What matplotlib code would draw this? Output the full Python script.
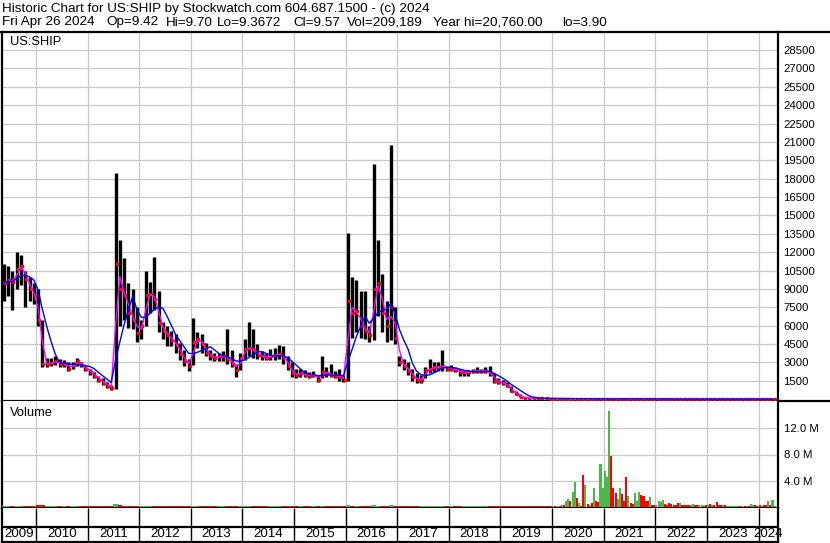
import numpy as np
import pandas as pd
import matplotlib
matplotlib.use("Agg")
import matplotlib.pyplot as plt
from matplotlib.lines import Line2D

plt.rcParams['font.family'] = ['Liberation Sans', 'DejaVu Sans']

# ---------------- data (monthly bars, May 2009 .. Apr 2024) ----------------
first_month = "2009-05"
last_month = "2024-04"

high = [
    11000, 10900, 10500, 12000, 11800, 10500, 10000, 9500,                      # 2009
    9000, 6500, 3400, 3400, 3550, 3300, 3200, 3000, 3000, 3400, 3000, 2800,     # 2010
    2500, 2200, 1900, 1700, 1400, 1150, 18500, 13000, 11500, 9500, 9000, 7500,  # 2011
    6500, 10500, 9600, 11600, 8800, 6300, 6000, 5600, 5300, 4600, 4000, 3300,   # 2012
    6600, 5500, 5300, 4600, 4000, 3800, 3800, 3900, 5700, 4000, 2900, 3800,     # 2013
    4900, 6300, 5700, 4500, 3900, 3800, 4100, 4200, 4400, 4300, 3500, 3000,     # 2014
    2500, 2500, 2400, 2200, 2300, 2000, 3500, 2600, 2900, 2300, 2500, 2000,     # 2015
    13600, 10000, 9700, 8800, 8800, 6000, 19200, 13000, 10200, 8000, 20760, 7500,  # 2016
    3500, 3300, 3000, 2500, 2100, 2000, 2600, 3300, 3000, 3000, 4000, 2700,     # 2017
    2800, 2600, 2500, 2400, 2400, 2500, 2600, 2500, 2600, 2700, 2100, 1700,     # 2018
    1600, 1400, 1100, 700, 420, 200, 120, 100, 90, 85, 80, 75,                  # 2019
    70, 65, 60, 55, 50, 45, 40, 38, 35, 32, 30, 28,                             # 2020
    40, 45, 38, 35, 30, 28, 26, 25, 24, 22, 20, 18,                             # 2021
    17, 16, 18, 16, 14, 12, 11, 10, 9, 9, 8, 8,                                 # 2022
    8, 8, 7, 7, 6, 6, 6, 7, 7, 6, 6, 7,                                         # 2023
    8, 9, 10, 9.7,                                                              # 2024
]
low = [
    8000, 8400, 7300, 9000, 9300, 7500, 8000, 7800,
    6000, 2600, 2600, 2700, 2800, 2600, 2650, 2300, 2500, 2700, 2600, 2300,
    2000, 1700, 1400, 1150, 900, 750, 800, 6000, 6500, 5800, 5700, 4700,
    4900, 6000, 7000, 7300, 5500, 4900, 4300, 4300, 3800, 3200, 2700, 2300,
    2800, 4200, 3800, 3500, 3200, 3100, 3100, 3100, 2900, 2600, 1850, 2400,
    3200, 3500, 3400, 3300, 3200, 3200, 3200, 3200, 3300, 2900, 2400, 1800,
    1700, 1800, 1800, 1700, 1800, 1400, 1700, 1800, 1800, 1700, 1500, 1400,
    1500, 5000, 5500, 5000, 4900, 4700, 4800, 6800, 5500, 4700, 4800, 4500,
    2700, 2400, 2000, 1500, 1300, 1300, 1700, 2100, 2200, 2300, 2300, 2300,
    2300, 2200, 1900, 1900, 1900, 2100, 2100, 2100, 2100, 1900, 1300, 1200,
    1150, 1000, 550, 300, 150, 90, 70, 60, 55, 50, 48, 45,
    40, 35, 30, 28, 25, 22, 20, 18, 17, 16, 15, 14,
    15, 20, 22, 20, 18, 17, 16, 15, 14, 13, 12, 11,
    11, 11, 12, 11, 9, 8, 7, 7, 6, 6, 5, 5,
    5, 5, 4.5, 4.5, 4, 3.9, 4, 4.5, 5, 4.5, 4.5, 5,
    5.5, 6.5, 7.5, 7.5,
]
close = [
    9500, 9700, 9600, 10600, 10900, 9800, 9000, 8400,
    6500, 2900, 2900, 2950, 3100, 2900, 2900, 2500, 2800, 3100, 2750, 2500,
    2200, 1900, 1600, 1350, 1100, 900, 11000, 9000, 8500, 7000, 6500, 5400,
    6000, 8500, 8600, 8200, 6200, 5600, 5200, 4800, 4400, 3700, 3100, 2700,
    4700, 4900, 4500, 3800, 3500, 3400, 3500, 3500, 3300, 2900, 2400, 3400,
    4100, 4200, 4000, 3600, 3500, 3400, 3500, 3600, 3700, 3400, 2700, 2100,
    2000, 2100, 2000, 1900, 2000, 1600, 2200, 2100, 2000, 1900, 1800, 1600,
    8000, 7000, 7200, 6000, 5600, 5200, 9000, 9500, 7000, 6000, 7500, 5000,
    3000, 2700, 2300, 1800, 1600, 1600, 2400, 2500, 2600, 2600, 2700, 2500,
    2500, 2400, 2200, 2200, 2200, 2300, 2300, 2300, 2300, 2100, 1500, 1400,
    1300, 1100, 700, 400, 200, 120, 80, 70, 65, 60, 55, 50,
    50, 45, 40, 35, 30, 28, 25, 22, 20, 20, 18, 17,
    30, 28, 26, 25, 22, 21, 20, 19, 18, 16, 14, 13,
    13, 14, 15, 12, 10, 9, 8, 8, 7, 7, 6, 6,
    6, 6, 5, 5, 4.5, 5, 5.5, 6, 5.5, 5, 5.5, 6,
    7, 8.5, 9.5, 9.57,
]

# monthly volume (millions), May 2009 .. Dec 2019
vol_pre2020 = [
    0.15, 0.14, 0.12, 0.18, 0.15, 0.14, 0.12, 0.12,
    0.22, 0.30, 0.15, 0.12, 0.14, 0.12, 0.11, 0.12, 0.11, 0.12, 0.11, 0.11,
    0.11, 0.10, 0.10, 0.10, 0.10, 0.11, 0.35, 0.22, 0.15, 0.14, 0.12, 0.12,
    0.12, 0.18, 0.15, 0.15, 0.14, 0.12, 0.11, 0.11, 0.11, 0.11, 0.11, 0.11,
    0.15, 0.12, 0.12, 0.11, 0.11, 0.11, 0.11, 0.11, 0.14, 0.12, 0.12, 0.12,
    0.14, 0.15, 0.14, 0.12, 0.11, 0.11, 0.11, 0.11, 0.11, 0.11, 0.11, 0.12,
    0.12, 0.11, 0.11, 0.11, 0.11, 0.11, 0.14, 0.11, 0.11, 0.11, 0.11, 0.11,
    0.22, 0.15, 0.14, 0.12, 0.12, 0.11, 0.20, 0.15, 0.12, 0.12, 0.20, 0.14,
    0.14, 0.12, 0.11, 0.11, 0.11, 0.11, 0.12, 0.12, 0.11, 0.11, 0.12, 0.11,
    0.11, 0.11, 0.11, 0.11, 0.11, 0.11, 0.11, 0.11, 0.11, 0.11, 0.11, 0.11,
    0.12, 0.12, 0.14, 0.15, 0.15, 0.15, 0.15, 0.15, 0.15, 0.15, 0.15, 0.15,
]

# half-month volume (millions), Jan 2020 .. Apr 2024, and up(1)/down(0) flag
vol_half = [
    0.05, 0.05, 0.05, 0.1, 0.2, 0.3, 0.9, 1.2, 0.8, 2.3, 3.8, 1.3,
    0.5, 0.1, 4.8, 3.4, 0.4, 0.3, 0.5, 2.8, 0.8, 0.7, 6.6, 2.8,
    5.4, 4.6, 14.7, 7.8, 2.9, 2.1, 1.2, 2.9, 1.9, 0.8, 4.6, 1.6,
    0.6, 0.4, 2.1, 0.8, 2.3, 1.8, 1.7, 0.9, 0.8, 1.5, 0.3, 0.2,
    0.2, 0.8, 0.7, 1.1, 0.4, 0.3, 0.6, 0.4, 0.3, 0.2, 0.6, 0.5,
    0.3, 0.3, 0.3, 0.3, 0.3, 0.4, 0.3, 0.2, 0.3, 0.3, 0.1, 0.2,
    0.3, 0.4, 0.3, 0.3, 0.7, 0.3, 0.2, 0.2, 0.2, 0.1, 0.15, 0.1,
    0.1, 0.05, 0.15, 0.1, 0.05, 0.1, 0.1, 0.1, 0.4, 0.2, 0.2, 0.1,
    0.2, 0.15, 0.2, 0.2, 0.9, 0.3, 1.1, 0.1,
]
vol_half_up = [
    1, 0, 1, 0, 1, 0, 1, 1, 0, 1, 1, 0,
    1, 0, 0, 1, 0, 1, 0, 1, 0, 0, 1, 1,
    1, 1, 1, 0, 0, 0, 1, 1, 0, 0, 0, 1,
    0, 0, 1, 1, 1, 0, 0, 0, 0, 1, 0, 0,
    1, 1, 1, 1, 0, 0, 0, 0, 0, 0, 0, 1,
    0, 0, 0, 0, 1, 1, 0, 0, 1, 1, 0, 0,
    1, 0, 1, 0, 0, 0, 0, 1, 0, 1, 1, 1,
    1, 1, 1, 0, 1, 0, 1, 0, 1, 1, 0, 0,
    0, 1, 0, 0, 1, 0, 1, 1,
]

year_labels = [str(y) for y in range(2009, 2025)]
price_ticks = list(range(1500, 28501, 1500))
vol_ticks = [4, 8, 12]

header1 = "Historic Chart for US:SHIP by Stockwatch.com 604.687.1500 - (c) 2024"
header2 = ["Fri Apr 26 2024", "Op=9.42", "Hi=9.70", "Lo=9.3672", "Cl=9.57",
           "Vol=209,189", "Year hi=20,760.00", "lo=3.90"]

# ---------------- derived ----------------
months = pd.period_range(first_month, last_month, freq="M")
xm = np.array([p.year + (p.month - 0.5) / 12 for p in months])
close_s = pd.Series(close, dtype=float)
ma_fast = close_s.rolling(2, min_periods=1).mean()
ma_slow = close_s.rolling(5, min_periods=1).mean()

n_pre = len(vol_pre2020)
x_vpre = xm[:n_pre]
up_pre = np.r_[True, np.diff(np.array(close[:n_pre], float)) >= 0]
x_vhalf = np.array([2020 + (k + 0.5) / 24 for k in range(len(vol_half))])

GREEN = "#4cb84c"
RED = "#ff0000"
GRID = "#c8c8c8"

# ---------------- layout helpers ----------------
W, H = 830, 543
fig = plt.figure(figsize=(W / 100, H / 100), dpi=100)


def rect(l, t, r, b):
    return [l / W, 1 - b / H, (r - l) / W, (b - t) / H]


XL = (2009.332, 2024.377)
year_bounds = list(range(2010, 2025))
SP = 1.6  # spine width

ax = fig.add_axes(rect(1.5, 32, 778, 401))
axv = fig.add_axes(rect(1.5, 401, 778, 508))
axx = fig.add_axes(rect(1.5, 508, 778, 542))

# ---------------- price panel ----------------
ax.vlines(xm, low, high, color="black", lw=2.4, zorder=3)
ax.plot(xm + 0.02, close, ls="none", marker="s", ms=1.7, mec=RED, mfc=RED, zorder=4)
ax.plot(xm, ma_fast, color="#ff00ff", lw=1.0, zorder=5)
ax.plot(xm, ma_slow, color="#0000ff", lw=1.0, zorder=6)
ax.set_xlim(*XL)
ax.set_ylim(-150, 29975)
ax.set_xticks(year_bounds)
ax.set_yticks(price_ticks)
ax.set_yticklabels([str(t) for t in price_ticks])
ax.yaxis.tick_right()
ax.tick_params(axis="y", length=0, pad=4, labelsize=8.2)
ax.tick_params(axis="x", length=0, labelbottom=False)
ax.grid(True, color=GRID, lw=0.9, zorder=0)
ax.set_axisbelow(True)
for s in ax.spines.values():
    s.set_linewidth(SP)
ax.spines["top"].set_visible(False)
ax.text(8 / 776.5, 1 - 10 / 369, "US:SHIP", transform=ax.transAxes,
        fontsize=9.3, va="center", ha="left")

# ---------------- volume panel ----------------
axv.bar(x_vpre, vol_pre2020, width=1 / 12, color=[GREEN if u else RED for u in up_pre],
        lw=0, zorder=3)
axv.bar(x_vhalf, vol_half, width=1 / 24 * 0.95,
        color=[GREEN if u else RED for u in vol_half_up], lw=0, zorder=3)
axv.set_xlim(*XL)
axv.set_ylim(-0.2, 16.2)
axv.set_xticks(year_bounds)
axv.set_yticks(vol_ticks)
axv.set_yticklabels([f"{t:.1f} M" for t in vol_ticks])
axv.yaxis.tick_right()
axv.tick_params(axis="y", length=0, pad=4, labelsize=8.2)
axv.tick_params(axis="x", length=0, labelbottom=False)
axv.grid(True, color=GRID, lw=0.9, zorder=0)
axv.set_axisbelow(True)
for s in axv.spines.values():
    s.set_linewidth(SP)
axv.spines["top"].set_visible(False)
axv.text(8 / 776.5, 1 - 12 / 107, "Volume", transform=axv.transAxes,
         fontsize=9.3, va="center", ha="left")

# ---------------- year axis ----------------
axx.set_xlim(*XL)
axx.set_ylim(0, 1)
split = 15 / 34
axx.vlines(year_bounds, 0, 1, color="black", lw=1.0)
axx.axhline(split, color="black", lw=SP)
cells = [XL[0]] + year_bounds + [XL[1]]
for i, lab in enumerate(year_labels):
    cx = (cells[i] + cells[i + 1]) / 2
    axx.text(cx, split / 2 + 0.02, lab, ha="center", va="center", fontsize=9.6)
axx.set_xticks([])
axx.set_yticks([])
for s in axx.spines.values():
    s.set_linewidth(SP)
axx.spines["top"].set_visible(False)

# ---------------- header & frame lines ----------------
fig.text(2 / W, 1 - 9 / H, header1, fontsize=9.7, va="center", ha="left")
h2x = [2, 106, 166, 217, 293, 347, 433, 562]
for xx, t in zip(h2x, header2):
    fig.text(xx / W, 1 - 22.5 / H, t, fontsize=9.7, va="center", ha="left")
fig.add_artist(Line2D([0, 1], [1 - 32 / H, 1 - 32 / H], color="black", lw=SP,
                      transform=fig.transFigure))
fig.add_artist(Line2D([778 / W, 1], [1 - 401 / H, 1 - 401 / H], color="black", lw=SP,
                      transform=fig.transFigure))

fig.savefig("out.png", dpi=100)
